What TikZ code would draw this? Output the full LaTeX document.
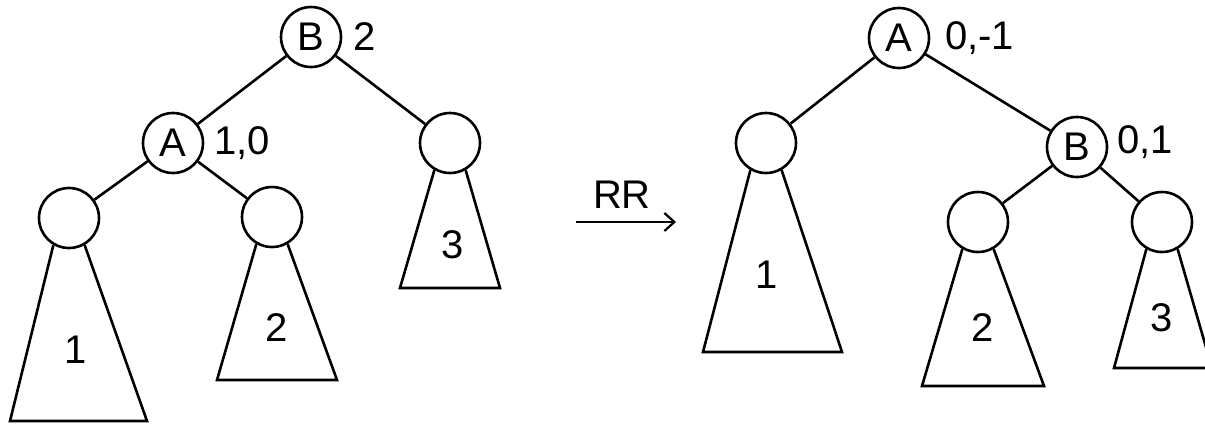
\documentclass[tikz,border=0pt]{standalone}
\usepackage{fontspec}
\setmainfont{Liberation Sans}
\usetikzlibrary{arrows.meta}
\begin{document}
\begin{tikzpicture}[x=1pt,y=-1pt,line width=2.6pt,
  vert/.style={circle,draw,minimum size=60pt,inner sep=0pt,font=\fontsize{40}{40}\selectfont},
  lbl/.style={font=\fontsize{40}{40}\selectfont,inner sep=0pt},
  bal/.style={lbl,anchor=west}]
\useasboundingbox (0,0) rectangle (1205,424);

% tree before the rotation
\node[vert] (lB) at (311,37) {B};
\node[vert] (lA) at (173,143) {A};
\node[vert] (lR) at (450,143) {};
\node[vert] (l1) at (69,218) {};
\node[vert] (l2) at (272,217) {};
\node[bal] (lBb) at (352,37) {2};
\node[bal] (lAb) at (213,143) {1,0};
\draw (lB) -- (lA);
\draw (lB) -- (lR);
\draw (lA) -- (l1);
\draw (lA) -- (l2);
\draw (l1.-120) -- (10,421) -- (147,421) -- (l1.-60);
\draw (l2.-120) -- (217,380) -- (337,380) -- (l2.-60);
\draw (lR.-120) -- (400,288) -- (500,288) -- (lR.-60);
\node[lbl] (lt1) at (76,350) {1};
\node[lbl] (lt2) at (277,328) {2};
\node[lbl] (lt3) at (453,245) {3};

% rotation arrow
\coordinate (arrS) at (576,222);
\coordinate (arrE) at (676,222);
\draw[-{Straight Barb[length=10pt,width=18pt]},line width=2.2pt] (arrS) -- (arrE);
\node[lbl] (rr) at (622,195) {RR};

% tree after the rotation
\node[vert] (rA) at (899,38) {A};
\node[vert] (r1) at (766,143) {};
\node[vert] (rB) at (1077,147) {B};
\node[vert] (r2) at (978,222) {};
\node[vert] (r3) at (1162,222) {};
\node[bal] (rAb) at (944,38) {0,-1};
\node[bal] (rBb) at (1116,142) {0,1};
\draw (rA) -- (r1);
\draw (rA) -- (rB);
\draw (rB) -- (r2);
\draw (rB) -- (r3);
\draw (r1.-120) -- (703,352) -- (842,352) -- (r1.-60);
\draw (r2.-120) -- (922,386) -- (1044,386) -- (r2.-60);
\draw (r3.-120) -- (1114,368) -- (1212,368) -- (r3.-60);
\node[lbl] (rt1) at (767,275) {1};
\node[lbl] (rt2) at (983,328) {2};
\node[lbl] (rt3) at (1162,318) {3};
\end{tikzpicture}
\end{document}
